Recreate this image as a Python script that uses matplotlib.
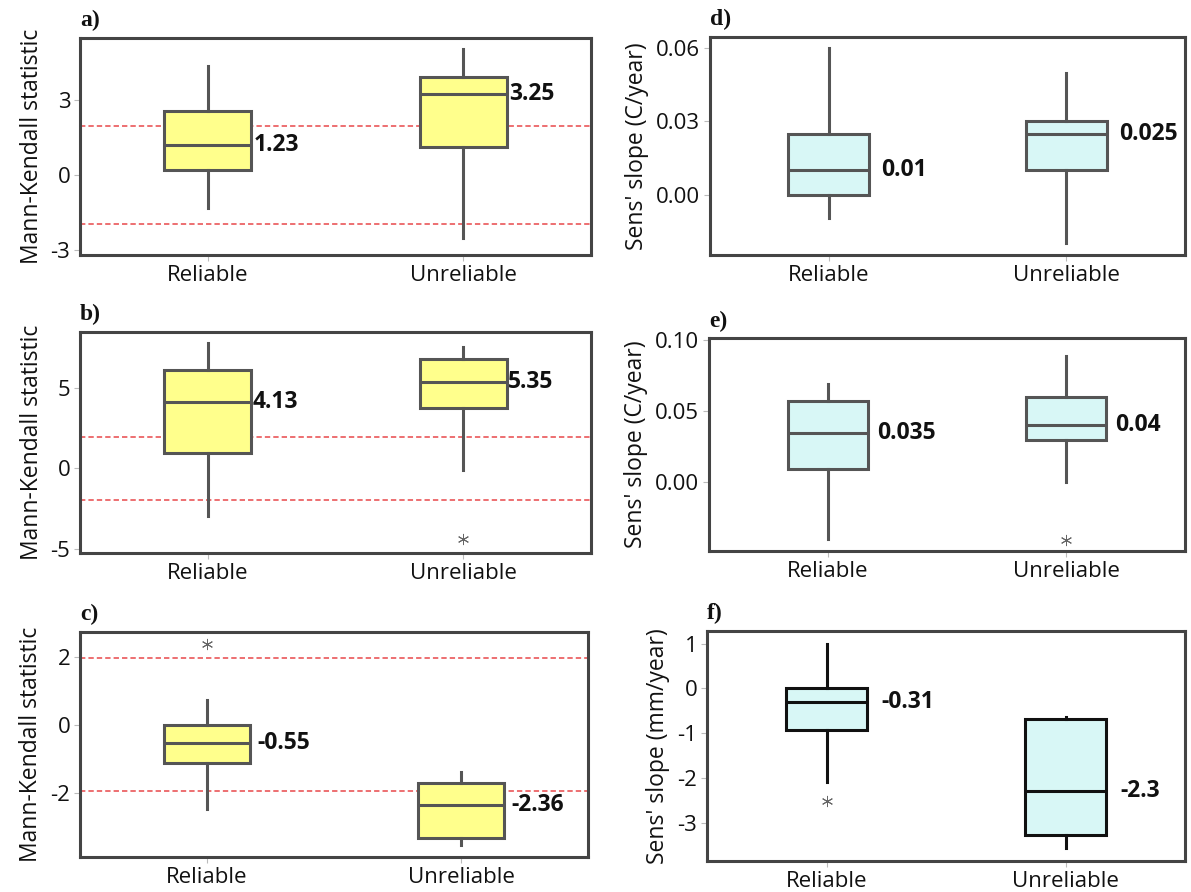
import matplotlib
matplotlib.use("Agg")
import matplotlib.pyplot as plt

plt.rcParams['font.family'] = ['Open Sans', 'DejaVu Sans']
plt.rcParams['axes.unicode_minus'] = False

categories = ["Reliable", "Unreliable"]

# Panel a) Mann-Kendall statistic
a_whislo = [-1.31, -2.53]
a_q1 = [0.20, 1.13]
a_med = [1.23, 3.25]
a_q3 = [2.59, 3.93]
a_whishi = [4.36, 5.07]
a_fliers = [[], []]
a_labels = ["1.23", "3.25"]

# Panel b)
b_whislo = [-2.94, -0.11]
b_q1 = [0.96, 3.72]
b_med = [4.13, 5.35]
b_q3 = [6.07, 6.79]
b_whishi = [7.78, 7.54]
b_fliers = [[], [-4.38]]
b_labels = ["4.13", "5.35"]

# Panel c)
c_whislo = [-2.48, -3.54]
c_q1 = [-1.12, -3.35]
c_med = [-0.55, -2.36]
c_q3 = [0.0, -1.71]
c_whishi = [0.74, -1.40]
c_fliers = [[2.39], []]
c_labels = ["-0.55", "-2.36"]

# Panel d) Sens' slope (C/year)
d_whislo = [-0.0097, -0.0197]
d_q1 = [0.0, 0.010]
d_med = [0.010, 0.025]
d_q3 = [0.0249, 0.030]
d_whishi = [0.060, 0.0497]
d_fliers = [[], []]
d_labels = ["0.01", "0.025"]

# Panel e)
e_whislo = [-0.0393, 0.0]
e_q1 = [0.0096, 0.0295]
e_med = [0.035, 0.040]
e_q3 = [0.0571, 0.0597]
e_whishi = [0.0688, 0.0888]
e_fliers = [[], [-0.040]]
e_labels = ["0.035", "0.04"]

# Panel f) Sens' slope (mm/year)
f_whislo = [-2.09, -3.57]
f_q1 = [-0.93, -3.28]
f_med = [-0.31, -2.30]
f_q3 = [0.01, -0.68]
f_whishi = [0.98, -0.65]
f_fliers = [[-2.52], []]
f_labels = ["-0.31", "-2.3"]

# critical Mann-Kendall values
mk_crit = [1.96, -1.96]

W, H = 1191, 892
fig = plt.figure(figsize=(W / 100, H / 100), dpi=100)


def rect(l, r, t, b):
    return [l / W, 1 - b / H, (r - l) / W, (b - t) / H]


panels = [
    dict(tag="a)", rect=rect(80, 591, 38, 255), st=(a_whislo, a_q1, a_med, a_q3, a_whishi, a_fliers),
         labels=a_labels, ylim=(-3.2, 5.5), yticks=[-3, 0, 3], fmt="{:g}", ylabel="Mann-Kendall statistic",
         fill="#ffff8c", edge="#555555", crit=True, off=2),
    dict(tag="b)", rect=rect(80, 591, 332, 553), st=(b_whislo, b_q1, b_med, b_q3, b_whishi, b_fliers),
         labels=b_labels, ylim=(-5.25, 8.45), yticks=[-5, 0, 5], fmt="{:g}", ylabel="Mann-Kendall statistic",
         fill="#ffff8c", edge="#555555", crit=True, off=1),
    dict(tag="c)", rect=rect(80, 588, 632, 857), st=(c_whislo, c_q1, c_med, c_q3, c_whishi, c_fliers),
         labels=c_labels, ylim=(-3.9, 2.74), yticks=[-2, 0, 2], fmt="{:g}", ylabel="Mann-Kendall statistic",
         fill="#ffff8c", edge="#555555", crit=True, off=5),
    dict(tag="d)", rect=rect(710, 1185, 37, 255), st=(d_whislo, d_q1, d_med, d_q3, d_whishi, d_fliers),
         labels=d_labels, ylim=(-0.0247, 0.0645), yticks=[0.0, 0.03, 0.06], fmt="{:.2f}",
         ylabel="Sens' slope (C/year)", fill="#d8f7f6", edge="#555555", crit=False, off=9),
    dict(tag="e)", rect=rect(709, 1185, 338, 551), st=(e_whislo, e_q1, e_med, e_q3, e_whishi, e_fliers),
         labels=e_labels, ylim=(-0.048, 0.1012), yticks=[0.0, 0.05, 0.10], fmt="{:.2f}",
         ylabel="Sens' slope (C/year)", fill="#d8f7f6", edge="#555555", crit=False, off=6),
    dict(tag="f)", rect=rect(707, 1185, 631, 861), st=(f_whislo, f_q1, f_med, f_q3, f_whishi, f_fliers),
         labels=f_labels, ylim=(-3.86, 1.28), yticks=[-3, -2, -1, 0, 1], fmt="{:g}",
         ylabel="Sens' slope (mm/year)", fill="#d8f7f6", edge="#111111", crit=False, off=10),
]

positions = [1, 2]
bw = 0.34

for p in panels:
    ax = fig.add_axes(p["rect"])
    wl, q1, med, q3, wh, fl = p["st"]
    stats = []
    for i, name in enumerate(categories):
        stats.append(dict(label=name, whislo=wl[i], q1=q1[i], med=med[i], q3=q3[i],
                          whishi=wh[i], fliers=fl[i]))
    if p["crit"]:
        for c in mk_crit:
            ax.axhline(c, color="#e8484a", lw=1.1, ls=(0, (3.5, 2)), zorder=1)
    ax.bxp(stats, positions=positions, widths=bw, patch_artist=True, showcaps=False,
           boxprops=dict(facecolor=p["fill"], edgecolor=p["edge"], linewidth=2.2),
           whiskerprops=dict(color=p["edge"], linewidth=2.2),
           medianprops=dict(color=p["edge"], linewidth=2.2),
           flierprops=dict(marker=(6, 2, 0), markersize=8, markeredgecolor="#666666",
                           markeredgewidth=0.7, linestyle="none"),
           zorder=2)
    for i, pos in enumerate(positions):
        ax.annotate(p["labels"][i], xy=(pos + bw / 2, med[i]), xytext=(p["off"], 0),
                    textcoords="offset points", ha="left", va="center",
                    fontsize=16.5, fontweight="bold", color="#111111")
    ax.set_xlim(0.5, 2.5)
    ax.set_ylim(*p["ylim"])
    ax.set_yticks(p["yticks"])
    ax.set_yticklabels([p["fmt"].format(v) for v in p["yticks"]])
    ax.set_xticks(positions)
    ax.set_xticklabels(categories)
    ax.tick_params(axis="both", labelsize=16, length=4, width=0.8, color="#bbbbbb",
                   labelcolor="#111111", pad=3)
    ax.set_ylabel(p["ylabel"], fontsize=16.5, color="#111111", labelpad=5)
    for s in ax.spines.values():
        s.set_color("#444444")
        s.set_linewidth(2.2)
    ax.text(0.0, 1.03, p["tag"], transform=ax.transAxes, ha="left", va="bottom",
            fontsize=17, fontweight="bold", family="Liberation Serif", color="#111111")

fig.savefig("out.png", dpi=100)
